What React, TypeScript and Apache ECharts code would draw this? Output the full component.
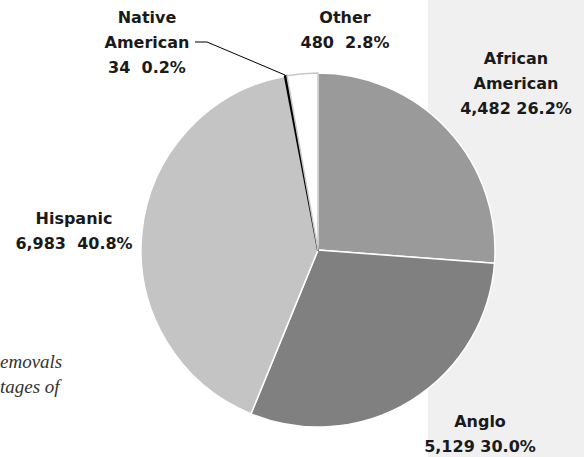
import React, { useEffect, useRef } from "react";
import * as echarts from "echarts";

const categories = ["African American", "Anglo", "Hispanic", "Native American", "Other"];
const labelNames = ["African\nAmerican", "Anglo", "Hispanic", "Native\nAmerican", "Other"];
const labelSeparators = [" ", " ", "  ", "  ", "  "];
const values = [4482, 5129, 6983, 34, 480];
const sliceColors = ["#9a9a9a", "#808080", "#c4c4c4", "#000000", "#ffffff"];
const noteLines = ["emovals", "tages of"];

const labelCenters: [number, number][] = [
  [516, 83],
  [480, 434],
  [74, 231],
  [147, 42],
  [345, 30],
];

export default function App() {
  const ref = useRef<HTMLDivElement>(null);
  useEffect(() => {
    if (!ref.current) return;
    const chart = echarts.init(ref.current, undefined, { renderer: "svg" });
    const fmt = (n: number) => n.toLocaleString("en-US");
    chart.setOption({
      animation: false,
      backgroundColor: "#ffffff",
      graphic: [
        { type: "rect", z: -10, shape: { x: 428, y: 0, width: 156, height: 457 }, style: { fill: "#f0f0f0" } },
        {
          type: "text",
          x: 0,
          y: 352,
          style: {
            text: noteLines[0],
            font: "italic 19px 'Liberation Serif', serif",
            fill: "#333333",
          },
        },
        {
          type: "text",
          x: 0,
          y: 377,
          style: {
            text: noteLines[1],
            font: "italic 19px 'Liberation Serif', serif",
            fill: "#333333",
          },
        },
        {
          type: "polyline",
          z: 20,
          shape: { points: [[195, 42], [207, 42], [285, 75]] },
          style: { stroke: "#000000", lineWidth: 1, fill: "none" },
        },
      ],
      series: [
        {
          type: "pie",
          center: [318, 250],
          radius: 177,
          startAngle: 90,
          clockwise: true,
          percentPrecision: 1,
          label: {
            show: true,
            position: "inside",
            overflow: "none",
            color: "#1a1a1a",
            fontFamily: "'DejaVu Sans', sans-serif",
            fontWeight: "bold",
            fontSize: 16,
            lineHeight: 25,
            align: "center",
            formatter: (p: any) =>
              `${labelNames[p.dataIndex]}\n${fmt(p.value)}${labelSeparators[p.dataIndex]}${p.percent.toFixed(1)}%`,
          },
          labelLine: { show: false },
          labelLayout: (p: any) => ({
            x: labelCenters[p.dataIndex][0],
            y: labelCenters[p.dataIndex][1],
            align: "center",
            verticalAlign: "middle",
          }),
          emphasis: { disabled: true },
          data: categories.map((c, i) => ({
            name: c,
            value: values[i],
            itemStyle: {
              color: sliceColors[i],
              borderColor: i === 4 ? "#c8c8c8" : i === 3 ? "#000000" : "#ffffff",
              borderWidth: i === 3 ? 2 : 1.5,
            },
          })),
        },
      ],
    });
    return () => chart.dispose();
  }, []);
  return (
    <div
      ref={ref}
      style={{ position: "fixed", left: 0, top: 0, width: 584, height: 457 }}
    />
  );
}
